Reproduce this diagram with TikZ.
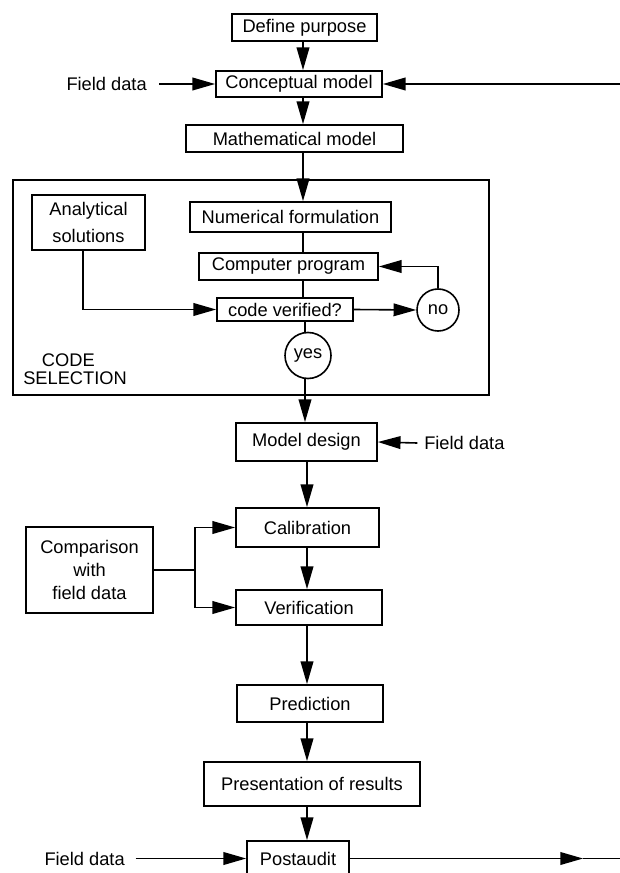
\documentclass[tikz,border=0pt]{standalone}
\usepackage{fontspec}
\setmainfont{Liberation Sans}
\usetikzlibrary{arrows.meta}
\newcommand\mybox[6]{\node[box, minimum width=#4*0.75pt, minimum height=#5*0.75pt] (#1) at (#2,#3) {#6};}
\begin{document}
\begin{tikzpicture}[x=0.75pt,y=-0.75pt,
  font=\fontsize{13.7pt}{16pt}\selectfont,
  box/.style={draw, line width=1.3pt, inner sep=0pt, rectangle},
  lbl/.style={inner sep=0pt},
  arr/.style={line width=1.2pt, -{Triangle[length=17pt,width=9.5pt]}},
  ln/.style={line width=1.2pt},
  circ/.style={draw, circle, line width=1.2pt, inner sep=0pt}]
\useasboundingbox (0,0) rectangle (620,873);
\fill[white] (0,0) rectangle (620,873);
\clip (0,0) rectangle (620,873);

% nodes
\mybox{dp}{304.5}{27.5}{145}{27}{Define purpose}
\mybox{cm}{299}{84}{166}{26}{Conceptual model}
\mybox{mm}{294.5}{138.5}{217}{27}{Mathematical model}
\node[box, minimum width=476*0.75pt, minimum height=215*0.75pt] (code) at (251,287.5) {};
\node[box, minimum width=113*0.75pt, minimum height=55*0.75pt, align=center,
      font=\fontsize{13.7pt}{20pt}\selectfont] (an) at (88.5,222.5) {Analytical\\solutions};
\mybox{nf}{290.5}{217}{201}{30}{Numerical formulation}
\mybox{cp}{288.5}{266.5}{179}{27}{Computer program}
\mybox{cv}{285}{309.5}{136}{23}{code verified?}
\node[circ, minimum size=42*0.75pt] (no) at (438,310) {no};
\node[circ, minimum size=46*0.75pt] (yes) at (308,355.5) {yes};
\node[lbl, anchor=west, align=left, font=\fontsize{13.7pt}{13.5pt}\selectfont] (cs) at (23,369) {\hspace*{14pt}CODE\\SELECTION};
\mybox{md}{306.5}{442}{141}{38}{Model design}
\node[lbl, anchor=west] (fd2) at (424,443) {Field data};
\mybox{cal}{307.5}{527.5}{143}{39}{Calibration}
\node[box, minimum width=127*0.75pt, minimum height=86*0.75pt, align=center,
      font=\fontsize{13.7pt}{17.25pt}\selectfont] (cmp) at (89.5,570) {Comparison\\with\\field data};
\mybox{ver}{309}{607.5}{146}{35}{Verification}
\mybox{pred}{310}{703.5}{146}{37}{Prediction}
\mybox{pres}{312}{784}{216}{44}{Presentation of results}
\mybox{post}{298}{858.5}{102}{35}{Postaudit}
\node[lbl, anchor=east] (fd1) at (147,84) {Field data};
\node[lbl, anchor=east] (fd3) at (125,858.5) {Field data};

% helper coordinates
\coordinate (c303) at (303,0);
\coordinate (c305) at (305,0);
\coordinate (c307) at (307,0);
\coordinate (c83) at (83,0);
\coordinate (j) at (195,570);
\coordinate (r1) at (620,84);
\coordinate (t2) at (583,858.5);
\coordinate (r2) at (620,858.5);

% connectors
\draw[arr] (dp.south -| c303) -- (cm.north -| c303);
\draw[arr] ([xshift=9pt]fd1.east) -- (cm.west);
\draw[arr] (r1) -- (cm.east);
\draw[arr] (cm.south -| c303) -- (mm.north -| c303);
\draw[arr] (mm.south -| c303) -- (nf.north -| c303);
\draw[ln] (nf.south -| c303) -- (cp.north -| c303);
\draw[ln] (cp.south -| c303) -- (cv.north -| c303);
\draw[ln] (cv.south -| c305) -- (yes.north -| c305);
\draw[arr] (yes.south -| c305) -- (md.north -| c305);
\draw[arr] (an.south -| c83) |- (cv.west);
\draw[arr] (cv.east) -- (no.west);
\draw[arr] (no.north) |- (cp.east);
\draw[arr] ([xshift=-5pt]fd2.west) -- (md.east);
\draw[arr] (md.south -| c307) -- (cal.north -| c307);
\draw[ln] (cmp.east) -- (j);
\draw[arr] (j) |- (cal.west);
\draw[arr] (j) |- (ver.west);
\draw[arr] (cal.south -| c307) -- (ver.north -| c307);
\draw[arr] (ver.south -| c307) -- (pred.north -| c307);
\draw[arr] (pred.south -| c307) -- (pres.north -| c307);
\draw[arr] (pres.south -| c307) -- (post.north -| c307);
\draw[arr] ([xshift=8pt]fd3.east) -- (post.west);
\draw[arr] (post.east) -- (t2);
\draw[ln] (t2) -- (r2);
\end{tikzpicture}
\end{document}
